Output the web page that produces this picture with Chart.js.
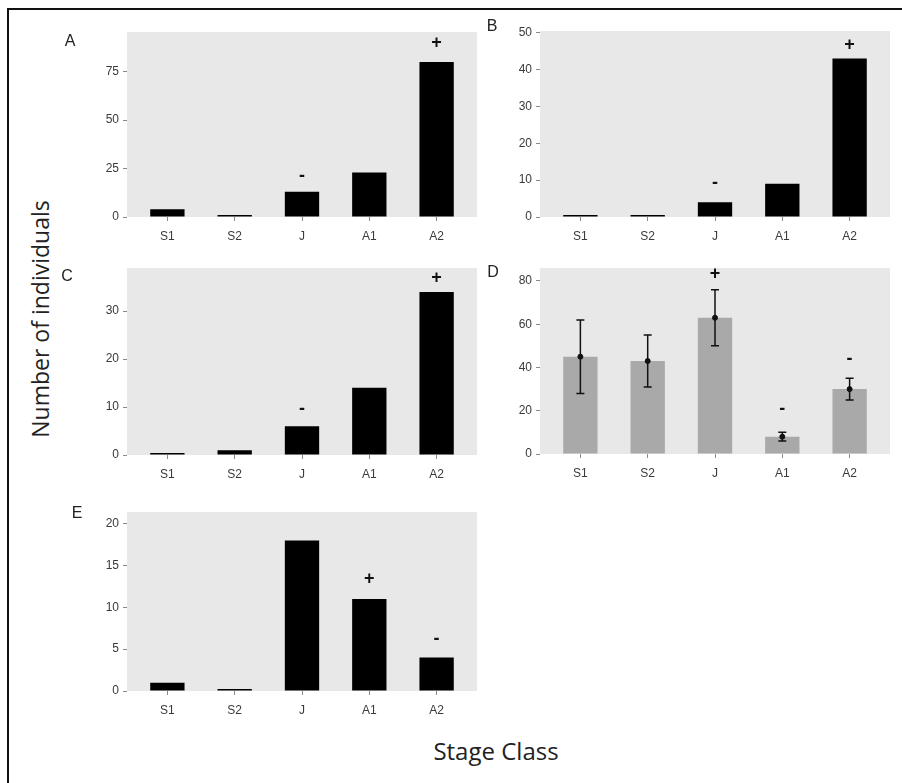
<!DOCTYPE html>
<html>
<head>
<meta charset="utf-8">
<script src="https://cdn.jsdelivr.net/npm/chart.js@4.4.1/dist/chart.umd.min.js"></script>
<style>
  body{margin:0;background:#fff;width:902px;height:783px;position:relative;overflow:hidden}
  .frame{position:absolute;left:7px;top:8px;width:900px;height:780px;border-top:2px solid #111;border-left:2px solid #111}
  canvas{position:absolute}
  .ytitle{position:absolute;left:40px;top:319px;transform:translate(-50%,-50%) rotate(-90deg);font:23px 'Open Sans',sans-serif;color:#222;white-space:nowrap}
  .xtitle{position:absolute;left:496px;top:750px;transform:translate(-50%,-50%);font:24px 'Open Sans',sans-serif;color:#222;white-space:nowrap}
</style>
</head>
<body>
<div class="frame"></div>
<div class="ytitle">Number of individuals</div>
<div class="xtitle">Stage Class</div>
<script>
'use strict';

// --- Data ---
const stages = ['S1','S2','J','A1','A2'];

const countsA = [4, 0, 13, 23, 80];
const ticksA  = [0, 25, 50, 75];
const maxA    = 95.5;
const marksA  = ['', '', '-', '', '+'];
const markYA  = [null, null, 21, null, 90];

const countsB = [0, 0, 4, 9, 43];
const ticksB  = [0, 10, 20, 30, 40, 50];
const maxB    = 50.5;
const marksB  = ['', '', '-', '', '+'];
const markYB  = [null, null, 9.3, null, 46.7];

const countsC = [0, 1, 6, 14, 34];
const ticksC  = [0, 10, 20, 30];
const maxC    = 39;
const marksC  = ['', '', '-', '', '+'];
const markYC  = [null, null, 9.5, null, 37];

const meanD   = [45, 43, 63, 8, 30];
const lowD    = [28, 31, 50, 6, 25];
const highD   = [62, 55, 76, 10, 35];
const ticksD  = [0, 20, 40, 60, 80];
const maxD    = 86;
const marksD  = ['', '', '+', '-', '-'];
const markYD  = [null, null, 83, 21, 44];

const countsE = [1, 0, 18, 11, 4];
const ticksE  = [0, 5, 10, 15, 20];
const maxE    = 21.4;
const marksE  = ['', '', '', '+', '-'];
const markYE  = [null, null, null, 13.4, 6.2];

// --- Layout (plot area of each panel, page pixels) ---
const panels = [
  {tag:'A', values:countsA, ticks:ticksA, max:maxA, marks:marksA, markY:markYA, color:'#000',
   area:{left:127, right:477, top:32,  bottom:217}, tagAt:[-57, 10]},
  {tag:'B', values:countsB, ticks:ticksB, max:maxB, marks:marksB, markY:markYB, color:'#000',
   area:{left:540, right:890, top:31,  bottom:217}, tagAt:[-48, -4]},
  {tag:'C', values:countsC, ticks:ticksC, max:maxC, marks:marksC, markY:markYC, color:'#000',
   area:{left:127, right:477, top:268, bottom:455}, tagAt:[-60, 9]},
  {tag:'D', values:meanD, ticks:ticksD, max:maxD, marks:marksD, markY:markYD, color:'#a9a9a9',
   low:lowD, high:highD,
   area:{left:540, right:890, top:268, bottom:454}, tagAt:[-47, 5]},
  {tag:'E', values:countsE, ticks:ticksE, max:maxE, marks:marksE, markY:markYE, color:'#000',
   area:{left:127, right:477, top:512, bottom:691}, tagAt:[-50, 2]}
];

const FONT = "'Liberation Sans', Arial, sans-serif";
const PAD_L = 35, Y_W = 40, PAD_T = 16, PAD_R = 6, X_H = 34;

// draws panel background, tag letter, +/- marks and error bars
const deco = {
  id:'deco',
  beforeDraw(chart, args, o){
    const {ctx, chartArea:a} = chart;
    ctx.save();
    ctx.fillStyle = '#e8e8e8';
    ctx.fillRect(a.left, a.top, a.right-a.left, a.bottom-a.top);
    ctx.restore();
  },
  afterDatasetsDraw(chart, args, o){
    const {ctx, scales:{x, y}} = chart;
    ctx.save();
    if(o.low){
      ctx.strokeStyle = '#111'; ctx.lineWidth = 1.5;
      o.low.forEach((lo, i)=>{
        const px = x.getPixelForValue(i+1);
        const y0 = y.getPixelForValue(lo), y1 = y.getPixelForValue(o.high[i]);
        ctx.beginPath();
        ctx.moveTo(px, y0); ctx.lineTo(px, y1);
        ctx.moveTo(px-4, y0); ctx.lineTo(px+4, y0);
        ctx.moveTo(px-4, y1); ctx.lineTo(px+4, y1);
        ctx.stroke();
      });
    }
    ctx.fillStyle = '#111';
    ctx.font = 'bold 18px ' + FONT;
    ctx.textAlign = 'center'; ctx.textBaseline = 'middle';
    o.marks.forEach((m, i)=>{
      if(!m) return;
      ctx.fillText(m, x.getPixelForValue(i+1), y.getPixelForValue(o.markY[i]));
    });
    ctx.restore();
  },
  afterDraw(chart, args, o){
    const {ctx, chartArea:a} = chart;
    ctx.save();
    ctx.fillStyle = '#222';
    ctx.font = '16px ' + FONT;
    ctx.textAlign = 'center'; ctx.textBaseline = 'middle';
    ctx.fillText(o.tag, a.left + o.tagAt[0], a.top + o.tagAt[1]);
    ctx.restore();
  }
};

function makePanel(p){
  const a = p.area;
  const cv = document.createElement('canvas');
  cv.width  = (a.right - a.left) + PAD_L + Y_W + PAD_R;
  cv.height = (a.bottom - a.top) + PAD_T + X_H;
  cv.style.left = (a.left - PAD_L - Y_W) + 'px';
  cv.style.top  = (a.top - PAD_T) + 'px';
  document.body.appendChild(cv);

  const datasets = [{
    type:'bar',
    data: p.values.map((v, i)=> ({x:i+1, y:v})),
    backgroundColor: p.color,
    barPercentage: 0.51,
    categoryPercentage: 1,
    minBarLength: 2,
    order: 2
  }];
  if(p.low){
    datasets.push({
      type:'line',
      data: p.values.map((v, i)=> ({x:i+1, y:v})),
      showLine:false, pointRadius:2.5, pointBackgroundColor:'#111', borderColor:'#111', order:1
    });
  }

  const axisGrid = {drawOnChartArea:false, drawTicks:true, tickLength:4, color:'#8a8a8a', offset:false};
  new Chart(cv, {
    type:'bar',
    data:{ datasets },
    options:{
      responsive:false, animation:false, devicePixelRatio:1, events:[],
      layout:{ padding:{left:PAD_L, top:PAD_T, right:PAD_R, bottom:0} },
      plugins:{
        legend:{display:false}, tooltip:{enabled:false},
        deco:{tag:p.tag, tagAt:p.tagAt, marks:p.marks, markY:p.markY, low:p.low, high:p.high}
      },
      scales:{
        x:{
          type:'linear', min:0.4, max:5.6, offset:false,
          afterBuildTicks: s=> { s.ticks = stages.map((_, i)=> ({value:i+1})); },
          afterFit: s=> { s.height = X_H; },
          grid:axisGrid, border:{display:false},
          ticks:{callback:v=> stages[v-1], color:'#3a3a3a', font:{family:FONT, size:12}, padding:8, maxRotation:0, autoSkip:false}
        },
        y:{
          min:0, max:p.max,
          afterBuildTicks: s=> { s.ticks = p.ticks.map(v=> ({value:v})); },
          afterFit: s=> { s.width = Y_W; },
          grid:axisGrid, border:{display:false},
          ticks:{color:'#3a3a3a', font:{family:FONT, size:12}, padding:4}
        }
      }
    },
    plugins:[deco]
  });
}

panels.forEach(makePanel);
</script>
</body>
</html>
